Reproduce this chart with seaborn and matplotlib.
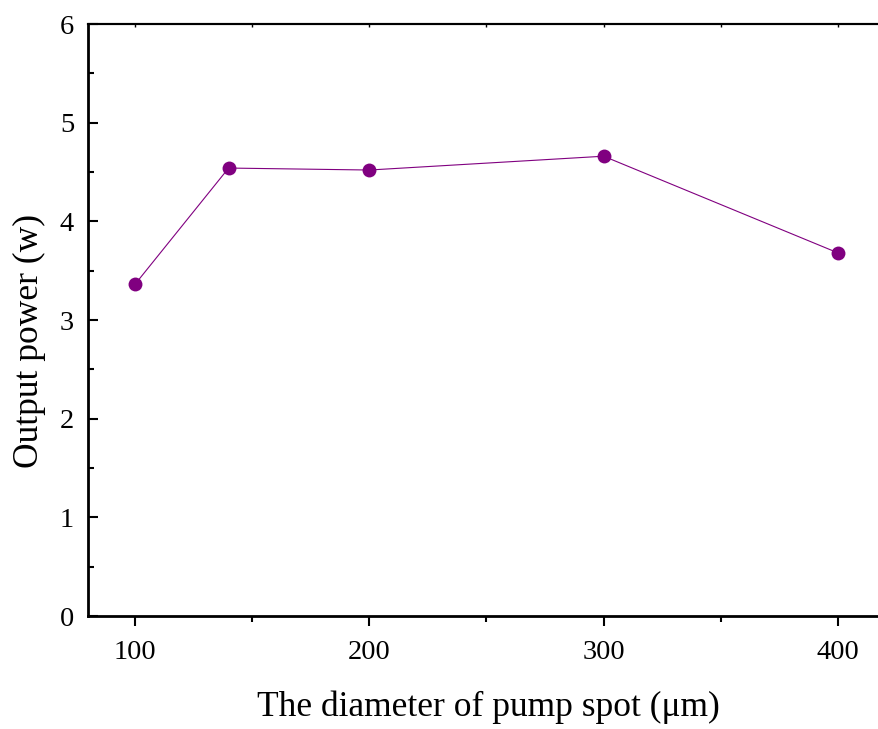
import matplotlib
matplotlib.use("Agg")
import matplotlib.pyplot as plt
import seaborn as sns
import pandas as pd
from matplotlib.ticker import MultipleLocator

diameter = [100, 140, 200, 300, 400]
power = [3.36, 4.54, 4.52, 4.66, 3.68]

df = pd.DataFrame({"diameter": diameter, "power": power})

sns.set_style("ticks")
plt.rcParams['font.family'] = ['Liberation Serif', 'DejaVu Serif']
plt.rcParams['text.color'] = 'black'
plt.rcParams['axes.labelcolor'] = 'black'
plt.rcParams['xtick.color'] = 'black'
plt.rcParams['ytick.color'] = 'black'
plt.rcParams['axes.edgecolor'] = 'black'

fig = plt.figure(figsize=(8.79, 7.29), dpi=100)
ax = fig.add_axes([88/879, 1-616/729, 1-88/879, (616-24)/729])

sns.lineplot(data=df, x="diameter", y="power", ax=ax, color="#800080",
             marker="o", markersize=10, markeredgewidth=0, linewidth=0.8)

ax.set_xlim(80, 417.5)
ax.set_ylim(0, 6)
ax.xaxis.set_major_locator(MultipleLocator(100))
ax.xaxis.set_minor_locator(MultipleLocator(50))
ax.yaxis.set_major_locator(MultipleLocator(1))
ax.yaxis.set_minor_locator(MultipleLocator(0.5))

for s in ["left", "bottom"]:
    ax.spines[s].set_linewidth(2)
ax.spines["top"].set_linewidth(1.5)
ax.spines["right"].set_visible(False)

ax.tick_params(axis="y", which="major", direction="in", length=7, width=1.5,
               labelsize=20.5, pad=10, right=False)
ax.tick_params(axis="y", which="minor", direction="in", length=4, width=1.5, right=False)
ax.tick_params(axis="x", which="major", direction="out", length=7, width=1.5,
               labelsize=20.5, pad=10, top=False)
ax.tick_params(axis="x", which="minor", direction="out", length=4, width=1.5, top=False)

# tiny inward ticks on the top spine
sec = ax.secondary_xaxis("top")
sec.xaxis.set_major_locator(MultipleLocator(50))
sec.tick_params(direction="in", length=2, width=1, labeltop=False)
sec.spines["top"].set_linewidth(1.5)

ax.set_xlabel("The diameter of pump spot (μm)", fontsize=25.5, labelpad=19)
ax.set_ylabel("Output power (w)", fontsize=25.5, labelpad=10)
ax.yaxis.label.set_y(0.4645)
ax.xaxis.label.set_x(0.506)

fig.savefig("out.png", dpi=100)
